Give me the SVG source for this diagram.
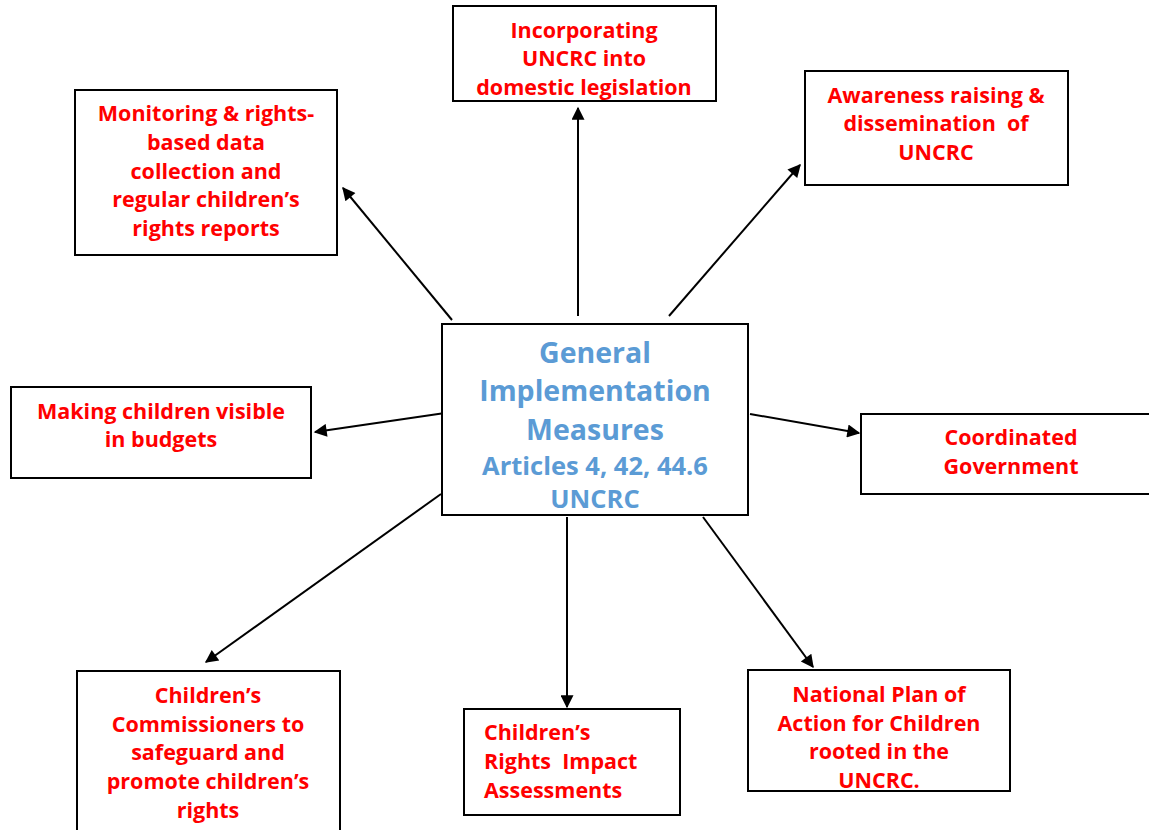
<svg xmlns="http://www.w3.org/2000/svg" width="1149" height="830" viewBox="0 0 1149 830">
  <style>
    .box { fill: #ffffff; stroke: #000000; stroke-width: 2; }
    .lbl { font-family: "Open Sans", "Liberation Sans", Arial, sans-serif; font-weight: bold; font-size: 21.5px; fill: #ff0000; text-anchor: middle; }
    .left { text-anchor: start; }
    .pre { white-space: pre; }
    .hub { font-family: "Open Sans", "Liberation Sans", Arial, sans-serif; font-weight: bold; fill: #5b9bd5; text-anchor: middle; }
    .edge { stroke: #000000; stroke-width: 2; fill: none; marker-end: url(#arrow); }
  </style>
  <defs>
    <marker id="arrow" viewBox="0 0 10 10" refX="9" refY="5" markerWidth="8" markerHeight="6.5" orient="auto" markerUnits="strokeWidth">
      <path d="M0,0 L10,5 L0,10 Z" fill="#000000"/>
    </marker>
  </defs>

  <rect width="1149" height="830" fill="#ffffff"/>

  <g id="connectors">
    <line class="edge" x1="578" y1="316" x2="578" y2="108"/>
    <line class="edge" x1="452" y1="320" x2="343" y2="188"/>
    <line class="edge" x1="669" y1="316" x2="800" y2="165"/>
    <line class="edge" x1="445" y1="413" x2="315" y2="432"/>
    <line class="edge" x1="750" y1="414" x2="859" y2="433"/>
    <line class="edge" x1="441" y1="494" x2="206" y2="662"/>
    <line class="edge" x1="567" y1="517" x2="567" y2="707"/>
    <line class="edge" x1="703" y1="517" x2="813" y2="667"/>
  </g>

  <g id="hub">
    <rect class="box" x="442" y="324" width="306" height="191"/>
    <text class="hub" x="595" y="363" font-size="28.5">General</text>
    <text class="hub" x="595" y="401" font-size="28.5">Implementation</text>
    <text class="hub" x="595" y="440" font-size="28.5">Measures</text>
    <text class="hub" x="595" y="475" font-size="25.5">Articles 4, 42, 44.6</text>
    <text class="hub" x="595" y="508" font-size="25.5">UNCRC</text>
  </g>

  <g id="legislation">
    <rect class="box" x="453" y="6" width="263" height="95"/>
    <text class="lbl" x="584" y="38">Incorporating</text>
    <text class="lbl" x="584" y="66">UNCRC into</text>
    <text class="lbl" x="584" y="95">domestic legislation</text>
  </g>

  <g id="monitoring">
    <rect class="box" x="75" y="90" width="262" height="165"/>
    <text class="lbl" x="206" y="121">Monitoring &amp; rights-</text>
    <text class="lbl" x="206" y="150">based data</text>
    <text class="lbl" x="206" y="179">collection and</text>
    <text class="lbl" x="206" y="207">regular children’s</text>
    <text class="lbl" x="206" y="236">rights reports</text>
  </g>

  <g id="awareness">
    <rect class="box" x="805" y="71" width="263" height="114"/>
    <text class="lbl" x="936" y="103">Awareness raising &amp;</text>
    <text class="lbl pre" x="936" y="131" xml:space="preserve">dissemination  of</text>
    <text class="lbl" x="936" y="160">UNCRC</text>
  </g>

  <g id="budgets">
    <rect class="box" x="11" y="387" width="300" height="91"/>
    <text class="lbl" x="161" y="419">Making children visible</text>
    <text class="lbl" x="161" y="447">in budgets</text>
  </g>

  <g id="coordination">
    <rect class="box" x="861" y="414" width="300" height="80"/>
    <text class="lbl" x="1011" y="445">Coordinated</text>
    <text class="lbl" x="1011" y="474">Government</text>
  </g>

  <g id="commissioners">
    <rect class="box" x="77" y="671" width="263" height="170"/>
    <text class="lbl" x="208" y="703">Children’s</text>
    <text class="lbl" x="208" y="732">Commissioners to</text>
    <text class="lbl" x="208" y="760">safeguard and</text>
    <text class="lbl" x="208" y="789">promote children’s</text>
    <text class="lbl" x="208" y="818">rights</text>
  </g>

  <g id="impact">
    <rect class="box" x="464" y="709" width="216" height="106"/>
    <text class="lbl left" x="484" y="740">Children’s</text>
    <text class="lbl left pre" x="484" y="769" xml:space="preserve">Rights  Impact</text>
    <text class="lbl left" x="484" y="798">Assessments</text>
  </g>

  <g id="action-plan">
    <rect class="box" x="748" y="670" width="262" height="121"/>
    <text class="lbl" x="879" y="702">National Plan of</text>
    <text class="lbl" x="879" y="731">Action for Children</text>
    <text class="lbl" x="879" y="759">rooted in the</text>
    <text class="lbl" x="879" y="788">UNCRC.</text>
  </g>
</svg>
